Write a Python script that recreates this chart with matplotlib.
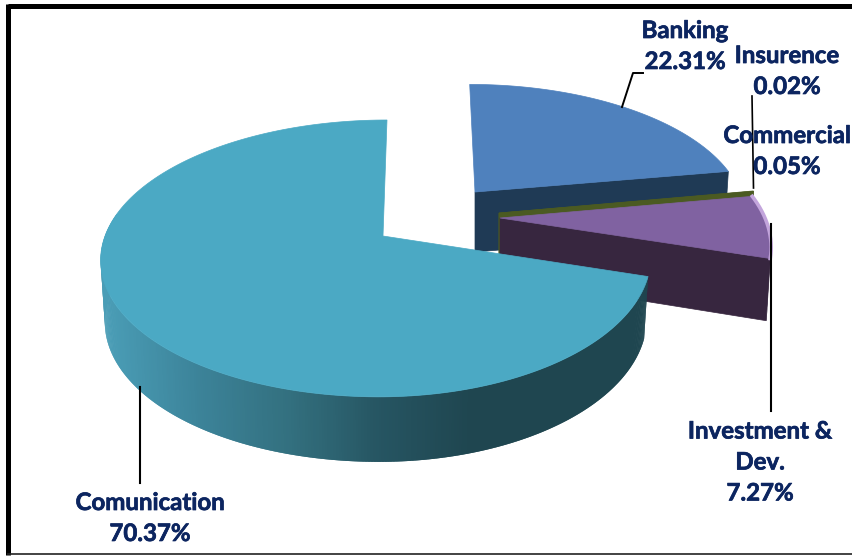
import numpy as np
import matplotlib
matplotlib.use("Agg")
import matplotlib.pyplot as plt
import matplotlib.patheffects as pe
from matplotlib.colors import LinearSegmentedColormap

# values, in drawing order round the pie (counter clockwise from 12 o'clock)
names = ["Comunication", "Investment &\nDev.", "Commercial", "Insurence", "Banking"]
shares = [70.37, 7.27, 0.05, 0.02, 22.31]

top_colors = ["#4ba9c4", "#8062a1", "#4b5a22", "#4b5a22", "#4f81bd"]
side_colors = ["#1f4650", "#37263f", "#4b5a22", "#4b5a22", "#1f3a55"]

# layout in pixels
apex = [(383, 236), (500, 218), (499, 213), (499, 213), (475, 192)]
height_scale = [134.8, 134.8, 134.8, 134.8, 125]
lean = [4, -14, 0, 0, -5]
label_pos = [(150, 518), (760, 462), (787, 151), (787, 71), (685, 46)]
face_z = [1, 5, 3, 3, 2]
K = 0.162


def project(ang, i, bottom=False):
    u = np.cos(ang)
    v = np.sin(ang)
    d = 1 + K * v
    rx = np.where(u < 0, 278.0, 265.0)
    if bottom:
        rx = rx * 0.985
    x = apex[i][0] + rx * u / d + lean[i] * v
    y = apex[i][1] - height_scale[i] * v / d
    if bottom:
        y = y + 61 - 4 * v
    return x, y


fig = plt.figure(figsize=(8.53, 5.56), dpi=100)
ax = fig.add_axes([0, 0, 1, 1])
ax.set_xlim(0, 853)
ax.set_ylim(556, 0)
ax.axis("off")

# slice angles come from the shares
edges = np.radians(90 + np.cumsum([0] + shares) * 3.6)
wall_cmap = LinearSegmentedColormap.from_list(
    "wall", ["#4a9db6", "#3c8399", "#33707f", "#265562", "#1f4650"])

for i in [4, 2, 3, 1, 0]:
    a0, a1 = edges[i], edges[i + 1]
    ang = np.linspace(a0, a1, 200)
    x, y = project(ang, i)
    xb, yb = project(ang, i, bottom=True)
    ax_, ay_ = apex[i]

    # cut faces that look at the viewer
    if i != 0:
        xe, ye = project(np.array([a0]), i)
        xeb, yeb = project(np.array([a0]), i, bottom=True)
        ax.fill([ax_, xe[0], xeb[0], ax_], [ay_, ye[0], yeb[0], ay_ + 60],
                color=side_colors[i], lw=0.5, zorder=face_z[i])

    # outer wall
    if i == 0:
        seg = np.radians(np.arange(170, np.degrees(a1), 0.5))
        seg = np.append(seg, a1)
        for j in range(len(seg) - 1):
            s = seg[j:j + 3]  # overlaps the next step, no seams
            xs, ys = project(s, i)
            xsb, ysb = project(s, i, bottom=True)
            t = np.clip((xs[0] - 105) / 365, 0, 1)
            ax.fill(np.r_[xs, xsb[::-1]], np.r_[ys, ysb[::-1]],
                    facecolor=wall_cmap(t), lw=0, zorder=10)
    elif i == 1:
        ax.fill(np.r_[x, xb[::-1]], np.r_[y, yb[::-1]], color=side_colors[i], lw=0, zorder=5)

    # top surface
    if shares[i] > 1:
        z = 11 if i == 0 else 6 if i == 1 else 2
        ax.fill(np.r_[ax_, x], np.r_[ay_, y], color=top_colors[i], lw=0.5, zorder=z)
        if i == 1:
            # lighter rim on the outer edge
            ax.plot(x, y, color="#c3a5dc", lw=2.6, zorder=6)

# leader lines
ax.plot([622, 633, 643], [107, 73, 73], color="black", lw=1.4, zorder=20)
ax.plot([752, 753.5], [96, 188], color="black", lw=1.2, zorder=20)
ax.plot([771, 771], [224, 411], color="black", lw=1.5, zorder=20)
ax.plot([140, 140], [387, 483], color="black", lw=1.5, zorder=20)

# labels
for name, share, (lx, ly) in zip(names, shares, label_pos):
    ax.text(lx, ly, f"{name}\n{share:.2f}%", ha="center", va="center",
            family=["Lato", "DejaVu Sans"], fontweight="bold", fontsize=17.3,
            color="#0c2560", linespacing=1.42, zorder=25,
            path_effects=[pe.withStroke(linewidth=0.5, foreground="#0c2560")])

# picture frame
ax.plot([8.5, 853], [5.5, 5.5], color="black", lw=3.6, solid_capstyle="butt", zorder=30)
ax.plot([8.5, 8.5], [3.5, 555], color="black", lw=3.6, solid_capstyle="butt", zorder=30)
ax.plot([7, 853], [554.3, 554.3], color="#222222", lw=1.2, solid_capstyle="butt", zorder=30)

fig.savefig("out.png", dpi=100, facecolor="white")
